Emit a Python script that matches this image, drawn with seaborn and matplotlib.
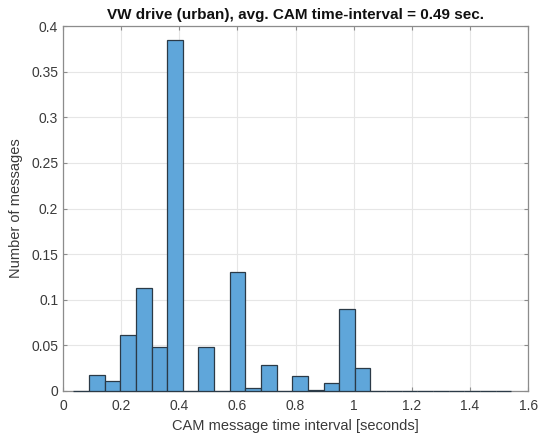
import numpy as np
import pandas as pd
import matplotlib
matplotlib.use("Agg")
import matplotlib.pyplot as plt
import seaborn as sns

# Bin layout (seconds) and normalized counts per bin
bin_start = 0.0355
bin_width = 0.0538
n_bins = 28
heights = [0.0, 0.0172, 0.011, 0.0617, 0.113, 0.048, 0.385, 0.0, 0.048, 0.0,
           0.130, 0.0036, 0.028, 0.0, 0.016, 0.0015, 0.0088, 0.090, 0.0255,
           0.0, 0.0, 0.0, 0.0, 0.0, 0.0, 0.0, 0.0, 0.0]
xticks = [0, 0.2, 0.4, 0.6, 0.8, 1.0, 1.2, 1.4, 1.6]
xticklabels = ["0", "0.2", "0.4", "0.6", "0.8", "1", "1.2", "1.4", "1.6"]
yticks = [0, 0.05, 0.1, 0.15, 0.2, 0.25, 0.3, 0.35, 0.4]
yticklabels = ["0", "0.05", "0.1", "0.15", "0.2", "0.25", "0.3", "0.35", "0.4"]
title = "VW drive (urban), avg. CAM time-interval = 0.49 sec."
xlabel = "CAM message time interval [seconds]"
ylabel = "Number of messages"

edges = [bin_start + bin_width * i for i in range(n_bins + 1)]
centers = [(edges[i] + edges[i + 1]) / 2 for i in range(n_bins)]
df = pd.DataFrame({"interval": centers, "frac": heights})

sns.set_style("white")
plt.rcParams["font.family"] = ["Liberation Sans", "DejaVu Sans"]

fig = plt.figure(figsize=(5.4, 4.41), dpi=100)
ax = fig.add_axes([0.1167, 0.1134, 0.8613, 0.8276])

sns.histplot(data=df, x="interval", weights="frac", bins=edges, ax=ax,
             color="#5fa6da", alpha=1.0, edgecolor="#2b3a47", linewidth=0.9)
for p in ax.patches:
    p.set_zorder(3)
    p.set_clip_on(False)

ax.set_xlim(0, 1.6)
ax.set_ylim(0, 0.4)
ax.set_xticks(xticks)
ax.set_xticklabels(xticklabels)
ax.set_yticks(yticks)
ax.set_yticklabels(yticklabels)
ax.grid(True, color="#e6e6e6", linewidth=0.8)
ax.set_axisbelow(True)
for s in ax.spines.values():
    s.set_visible(True)
    s.set_color("#8c8c8c")
    s.set_linewidth(0.9)
    s.set_zorder(2.5)
ax.tick_params(direction="in", length=3, color="#8c8c8c", labelsize=10,
               labelcolor="#3a3a3a", top=True, right=True, bottom=True, left=True,
               labeltop=False, labelright=False)
ax.tick_params(axis="x", pad=6)
ax.set_title(title, fontsize=11, fontweight="bold", color="#111111", pad=5)
ax.set_xlabel(xlabel, fontsize=10.5, color="#3a3a3a", labelpad=4)
ax.set_ylabel(ylabel, fontsize=10.5, color="#3a3a3a", labelpad=6)

fig.savefig("out.png", dpi=100)
